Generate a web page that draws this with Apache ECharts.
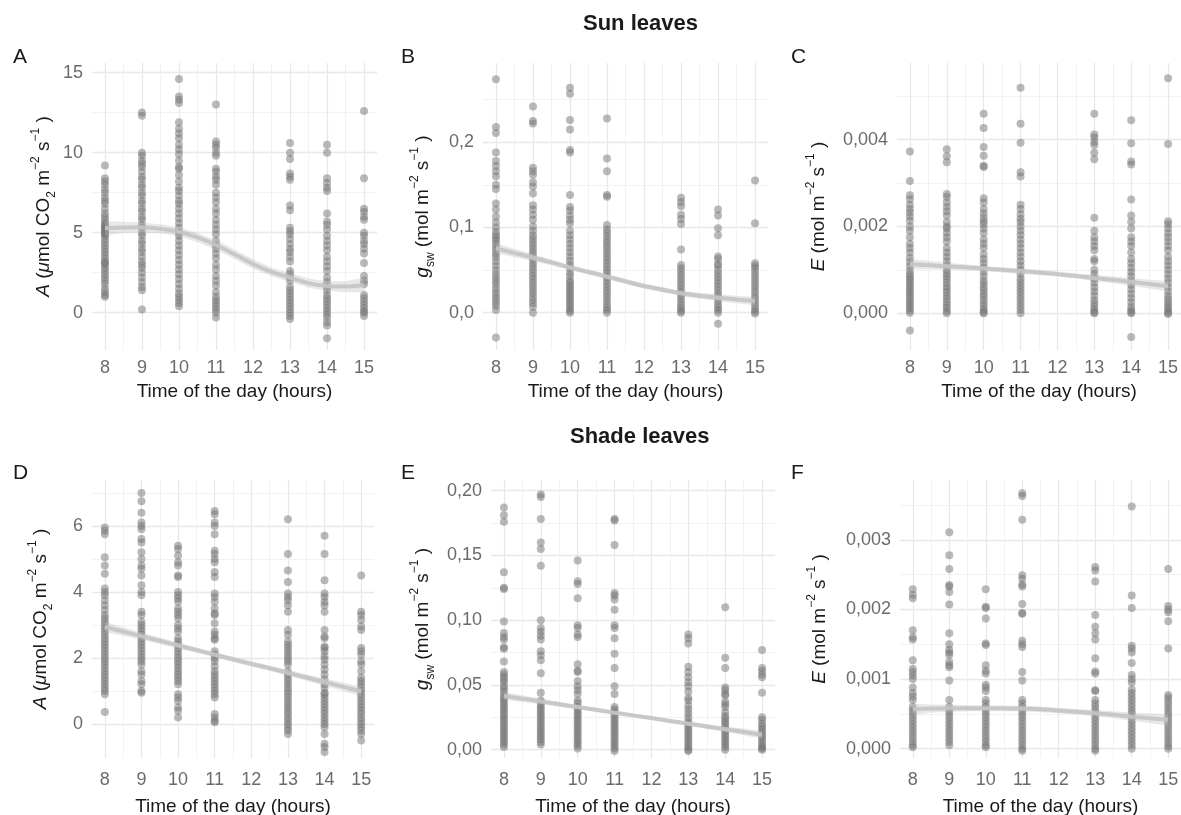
<!DOCTYPE html>
<html>
<head>
<meta charset="utf-8">
<script src="https://cdn.jsdelivr.net/npm/echarts@6/dist/echarts.min.js"></script>
<style>html,body{margin:0;padding:0;background:#fff}#chart{width:1181px;height:815px}</style>
</head>
<body>
<div id="chart"></div>
<script>
var hours = [8, 9, 10, 11, 13, 14, 15];
var xTicks = [8, 9, 10, 11, 12, 13, 14, 15];
var xMinor = [8.5, 9.5, 10.5, 11.5, 12.5, 13.5, 14.5];
var fitHours = [8, 8.5, 9, 9.5, 10, 10.5, 11, 11.5, 12, 12.5, 13, 13.5, 14, 14.5, 15];

// A - sun leaves, net assimilation (one list per hour)
var sunA = [
	[9.2, 8.4, 8.2, 8.0, 7.7, 7.5, 7.2, 7.0, 6.8, 6.5, 6.2, 6.0, 5.8, 5.6, 5.5, 5.4, 5.3, 5.2, 5.1, 5.0, 4.9, 4.8, 4.6, 4.4, 4.2, 4.0, 3.8, 3.6, 3.4, 3.2, 3.1, 3.0, 2.8, 2.6, 2.4, 2.2, 2.0, 1.8, 1.5, 1.3, 1.1, 1.0],
	[12.5, 12.3, 10.0, 9.8, 9.5, 9.3, 9.1, 8.8, 8.5, 8.3, 8.0, 7.8, 7.5, 7.3, 7.0, 6.8, 6.5, 6.3, 6.0, 5.8, 5.5, 5.3, 5.0, 4.8, 4.5, 4.3, 4.0, 3.8, 3.5, 3.2, 3.0, 2.8, 2.5, 2.2, 1.9, 1.6, 1.4, 0.2],
	[14.6, 13.5, 13.3, 13.1, 11.9, 11.5, 11.2, 10.9, 10.5, 10.2, 9.9, 9.5, 9.1, 9.0, 8.6, 8.2, 7.8, 7.6, 7.3, 7.0, 6.8, 6.5, 6.2, 5.9, 5.6, 5.3, 5.0, 4.8, 4.5, 4.2, 3.9, 3.6, 3.3, 3.0, 2.7, 2.4, 2.1, 1.8, 1.5, 1.2, 1.0, 0.8, 0.6, 0.4],
	[13.0, 10.7, 10.5, 10.3, 10.0, 9.8, 9.0, 8.8, 8.5, 8.3, 8.0, 7.5, 7.2, 6.9, 6.5, 6.2, 5.8, 5.5, 5.2, 4.9, 4.5, 4.2, 4.0, 3.7, 3.4, 3.0, 2.7, 2.3, 2.0, 1.7, 1.3, 1.0, 0.8, 0.6, 0.4, 0.2, 0.0, -0.3],
	[10.6, 10.0, 9.6, 8.7, 8.5, 8.3, 6.7, 6.4, 5.3, 5.1, 4.9, 4.6, 4.3, 4.0, 3.8, 3.5, 3.2, 2.6, 2.4, 2.2, 2.0, 1.6, 1.4, 1.2, 1.0, 0.8, 0.6, 0.4, 0.2, 0.0, -0.2, -0.4],
	[10.5, 10.0, 8.4, 8.1, 7.8, 7.6, 6.2, 5.7, 5.5, 5.2, 4.8, 4.5, 4.2, 3.9, 3.5, 3.2, 2.9, 2.6, 2.2, 1.9, 1.6, 1.4, 1.1, 0.9, 0.7, 0.5, 0.3, 0.1, -0.1, -0.3, -0.6, -0.8, -1.6],
	[12.6, 8.4, 6.5, 6.3, 6.0, 5.8, 5.0, 4.8, 4.5, 4.3, 4.0, 3.7, 3.1, 2.3, 2.0, 1.8, 1.1, 0.9, 0.7, 0.5, 0.3, 0.1, 0.0, -0.2]
];
var sunA_fit = [5.27, 5.33, 5.33, 5.25, 5.06, 4.70, 4.23, 3.65, 3.04, 2.55, 2.20, 1.85, 1.67, 1.63, 1.73];
var sunA_band = [0.45, 0.35, 0.3, 0.28, 0.28, 0.28, 0.3, 0.3, 0.3, 0.28, 0.28, 0.28, 0.3, 0.35, 0.45];

// B - sun leaves, stomatal conductance
var sunB = [
	[0.274, 0.218, 0.211, 0.188, 0.178, 0.172, 0.166, 0.160, 0.150, 0.145, 0.128, 0.121, 0.113, 0.106, 0.100, 0.095, 0.091, 0.088, 0.085, 0.081, 0.077, 0.073, 0.069, 0.065, 0.060, 0.055, 0.050, 0.045, 0.041, 0.037, 0.033, 0.028, 0.024, 0.020, 0.016, 0.012, 0.008, 0.003, -0.029],
	[0.242, 0.225, 0.222, 0.170, 0.166, 0.162, 0.153, 0.148, 0.140, 0.126, 0.121, 0.115, 0.109, 0.101, 0.096, 0.091, 0.087, 0.083, 0.079, 0.075, 0.071, 0.067, 0.063, 0.059, 0.055, 0.051, 0.047, 0.043, 0.039, 0.035, 0.031, 0.027, 0.023, 0.019, 0.015, 0.011, 0.007, 0.0],
	[0.264, 0.257, 0.226, 0.215, 0.191, 0.188, 0.138, 0.124, 0.120, 0.114, 0.109, 0.105, 0.096, 0.091, 0.086, 0.081, 0.076, 0.071, 0.066, 0.061, 0.056, 0.052, 0.047, 0.043, 0.038, 0.035, 0.032, 0.029, 0.026, 0.023, 0.020, 0.017, 0.014, 0.011, 0.008, 0.005, 0.002, 0.0],
	[0.228, 0.181, 0.166, 0.138, 0.136, 0.103, 0.098, 0.094, 0.090, 0.086, 0.082, 0.078, 0.074, 0.070, 0.066, 0.062, 0.058, 0.054, 0.050, 0.046, 0.042, 0.038, 0.034, 0.030, 0.026, 0.022, 0.018, 0.014, 0.010, 0.006, 0.003, 0.0],
	[0.135, 0.130, 0.125, 0.115, 0.110, 0.104, 0.074, 0.056, 0.052, 0.048, 0.044, 0.040, 0.036, 0.032, 0.028, 0.024, 0.020, 0.016, 0.012, 0.008, 0.005, 0.002, 0.0],
	[0.121, 0.114, 0.099, 0.091, 0.066, 0.063, 0.057, 0.055, 0.050, 0.046, 0.042, 0.038, 0.034, 0.030, 0.026, 0.022, 0.018, 0.014, 0.010, 0.006, 0.003, 0.0, -0.013],
	[0.155, 0.105, 0.058, 0.055, 0.052, 0.048, 0.044, 0.040, 0.036, 0.032, 0.028, 0.024, 0.020, 0.016, 0.012, 0.008, 0.004, 0.001, -0.001]
];
var sunB_fit = [0.0756, 0.0700, 0.0647, 0.0590, 0.0530, 0.0477, 0.0423, 0.0367, 0.0313, 0.0270, 0.0227, 0.0198, 0.0176, 0.0155, 0.0137];
var sunB_band = [0.006, 0.005, 0.004, 0.0035, 0.003, 0.003, 0.003, 0.003, 0.003, 0.003, 0.003, 0.0035, 0.004, 0.0045, 0.005];

// C - sun leaves, transpiration
var sunC = [
	[0.00373, 0.00305, 0.00272, 0.00263, 0.00250, 0.00240, 0.00232, 0.00223, 0.00213, 0.00200, 0.00190, 0.00175, 0.00160, 0.00150, 0.00140, 0.00128, 0.00118, 0.00108, 0.00098, 0.00090, 0.00084, 0.00078, 0.00072, 0.00066, 0.00060, 0.00054, 0.00048, 0.00042, 0.00036, 0.00030, 0.00024, 0.00018, 0.00012, 0.00006, 0.00001, -0.00040],
	[0.00378, 0.00362, 0.00348, 0.00275, 0.00268, 0.00255, 0.00245, 0.00235, 0.00225, 0.00210, 0.00200, 0.00195, 0.00185, 0.00175, 0.00165, 0.00150, 0.00140, 0.00130, 0.00120, 0.00110, 0.00100, 0.00092, 0.00085, 0.00078, 0.00070, 0.00062, 0.00055, 0.00048, 0.00040, 0.00033, 0.00025, 0.00018, 0.00012, 0.00005, 0.0],
	[0.00460, 0.00427, 0.00383, 0.00363, 0.00340, 0.00337, 0.00265, 0.00255, 0.00240, 0.00230, 0.00220, 0.00212, 0.00205, 0.00195, 0.00185, 0.00170, 0.00160, 0.00150, 0.00135, 0.00125, 0.00115, 0.00105, 0.00095, 0.00085, 0.00075, 0.00068, 0.00060, 0.00052, 0.00045, 0.00038, 0.00030, 0.00022, 0.00015, 0.00008, 0.00002, 0.0],
	[0.00520, 0.00437, 0.00393, 0.00325, 0.00315, 0.00250, 0.00240, 0.00228, 0.00218, 0.00210, 0.00200, 0.00190, 0.00180, 0.00170, 0.00160, 0.00150, 0.00140, 0.00130, 0.00120, 0.00110, 0.00100, 0.00090, 0.00080, 0.00072, 0.00064, 0.00056, 0.00048, 0.00040, 0.00032, 0.00024, 0.00016, 0.00008, 0.0],
	[0.00460, 0.00412, 0.00405, 0.00395, 0.00388, 0.00370, 0.00355, 0.00220, 0.00190, 0.00175, 0.00165, 0.00155, 0.00145, 0.00125, 0.00120, 0.00100, 0.00090, 0.00080, 0.00070, 0.00060, 0.00050, 0.00040, 0.00030, 0.00022, 0.00015, 0.00008, 0.00002, 0.0],
	[0.00445, 0.00392, 0.00350, 0.00343, 0.00262, 0.00225, 0.00210, 0.00195, 0.00175, 0.00165, 0.00155, 0.00140, 0.00125, 0.00115, 0.00105, 0.00095, 0.00085, 0.00075, 0.00065, 0.00055, 0.00045, 0.00035, 0.00025, 0.00015, 0.00008, 0.00002, 0.0, -0.00055],
	[0.00542, 0.00390, 0.00212, 0.00205, 0.00195, 0.00185, 0.00175, 0.00165, 0.00155, 0.00145, 0.00130, 0.00120, 0.00110, 0.00100, 0.00090, 0.00080, 0.00070, 0.00060, 0.00050, 0.00040, 0.00032, 0.00025, 0.00018, 0.00012, 0.00006, 0.00001, -0.00002]
];
var sunC_fit = [0.00113, 0.00111, 0.00108, 0.00106, 0.00103, 0.00100, 0.00097, 0.00094, 0.00090, 0.00086, 0.00081, 0.00077, 0.00072, 0.00067, 0.00062];
var sunC_band = [0.00012, 0.0001, 0.00008, 0.00007, 0.00006, 0.00006, 0.00006, 0.00006, 0.00006, 0.00006, 0.00007, 0.00008, 0.00009, 0.0001, 0.00012];

// D - shade leaves, net assimilation
var shadeA = [
	[5.95, 5.85, 5.75, 5.05, 4.8, 4.55, 4.1, 4.0, 3.9, 3.75, 3.6, 3.45, 3.3, 3.2, 3.1, 3.0, 2.9, 2.8, 2.7, 2.6, 2.5, 2.4, 2.3, 2.2, 2.1, 2.0, 1.9, 1.8, 1.7, 1.6, 1.5, 1.4, 1.3, 1.2, 1.1, 1.0, 0.9, 0.36],
	[7.0, 6.75, 6.4, 6.1, 6.0, 5.9, 5.6, 5.5, 5.2, 5.0, 4.8, 4.7, 4.5, 4.2, 4.0, 3.9, 3.4, 3.3, 3.1, 3.0, 2.9, 2.8, 2.7, 2.6, 2.5, 2.4, 2.3, 2.2, 2.1, 2.0, 1.9, 1.8, 1.6, 1.5, 1.3, 1.2, 1.0, 0.95],
	[5.4, 5.3, 5.1, 4.9, 4.8, 4.5, 4.45, 4.0, 3.9, 3.8, 3.7, 3.5, 3.4, 3.3, 3.2, 3.0, 2.9, 2.8, 2.6, 2.5, 2.4, 2.3, 2.2, 2.1, 2.0, 1.9, 1.8, 1.7, 1.6, 1.5, 1.4, 1.3, 1.2, 0.9, 0.8, 0.7, 0.5, 0.4, 0.2],
	[6.45, 6.35, 6.1, 6.0, 5.75, 5.25, 5.15, 5.0, 4.9, 4.6, 4.45, 3.95, 3.85, 3.7, 3.5, 3.35, 3.3, 3.05, 2.8, 2.7, 2.6, 2.55, 2.2, 2.1, 2.0, 1.9, 1.75, 1.6, 1.5, 1.4, 1.3, 1.2, 1.1, 1.0, 0.9, 0.8, 0.3, 0.2, 0.1, 0.05],
	[6.2, 5.15, 4.65, 4.3, 3.95, 3.85, 3.75, 3.6, 3.4, 2.85, 2.7, 2.5, 2.4, 2.3, 2.2, 2.1, 2.0, 1.9, 1.8, 1.6, 1.5, 1.4, 1.3, 1.2, 1.1, 1.0, 0.9, 0.8, 0.7, 0.6, 0.5, 0.4, 0.3, 0.2, 0.1, 0.0, -0.1, -0.2, -0.3],
	[5.7, 5.15, 4.35, 3.95, 3.85, 3.7, 3.6, 3.4, 2.85, 2.65, 2.6, 2.35, 2.3, 2.2, 2.05, 1.95, 1.8, 1.65, 1.5, 1.35, 1.2, 1.1, 0.95, 0.9, 0.8, 0.7, 0.6, 0.5, 0.4, 0.3, 0.2, 0.1, 0.0, -0.1, -0.3, -0.6, -0.7, -0.85],
	[4.5, 3.4, 3.3, 3.15, 2.95, 2.85, 2.3, 2.2, 2.1, 1.9, 1.8, 1.6, 1.4, 1.3, 1.2, 1.1, 1.0, 0.9, 0.8, 0.7, 0.6, 0.5, 0.4, 0.3, 0.2, 0.1, 0.0, -0.1, -0.2, -0.3, -0.5]
];
var shadeA_fit = [2.94, 2.80, 2.66, 2.52, 2.38, 2.24, 2.10, 1.96, 1.82, 1.69, 1.55, 1.41, 1.27, 1.13, 0.99];
var shadeA_band = [0.15, 0.13, 0.11, 0.1, 0.09, 0.08, 0.08, 0.08, 0.08, 0.08, 0.09, 0.1, 0.11, 0.13, 0.15];

// E - shade leaves, stomatal conductance
var shadeB = [
	[0.187, 0.181, 0.176, 0.137, 0.125, 0.124, 0.099, 0.090, 0.087, 0.085, 0.079, 0.078, 0.068, 0.060, 0.058, 0.056, 0.054, 0.052, 0.049, 0.047, 0.045, 0.042, 0.040, 0.038, 0.036, 0.034, 0.032, 0.030, 0.028, 0.026, 0.024, 0.022, 0.020, 0.018, 0.016, 0.014, 0.012, 0.010, 0.008, 0.006, 0.004, 0.002],
	[0.197, 0.195, 0.178, 0.160, 0.155, 0.142, 0.100, 0.094, 0.091, 0.088, 0.085, 0.076, 0.073, 0.069, 0.059, 0.044, 0.038, 0.036, 0.034, 0.032, 0.030, 0.028, 0.026, 0.024, 0.022, 0.020, 0.018, 0.016, 0.014, 0.012, 0.010, 0.008, 0.006, 0.004],
	[0.146, 0.130, 0.128, 0.117, 0.096, 0.094, 0.089, 0.087, 0.066, 0.061, 0.060, 0.053, 0.049, 0.046, 0.043, 0.038, 0.036, 0.033, 0.031, 0.029, 0.027, 0.025, 0.023, 0.021, 0.019, 0.017, 0.015, 0.013, 0.011, 0.009, 0.007, 0.005, 0.003, 0.001],
	[0.178, 0.177, 0.158, 0.121, 0.119, 0.116, 0.108, 0.096, 0.094, 0.086, 0.074, 0.063, 0.049, 0.043, 0.033, 0.031, 0.029, 0.027, 0.025, 0.023, 0.021, 0.019, 0.017, 0.015, 0.013, 0.011, 0.009, 0.007, 0.005, 0.003, 0.001, -0.001],
	[0.089, 0.086, 0.082, 0.064, 0.060, 0.056, 0.052, 0.049, 0.045, 0.040, 0.038, 0.034, 0.031, 0.028, 0.025, 0.022, 0.020, 0.018, 0.016, 0.014, 0.012, 0.010, 0.008, 0.006, 0.004, 0.002, 0.0, -0.001],
	[0.110, 0.071, 0.063, 0.048, 0.046, 0.043, 0.042, 0.037, 0.035, 0.033, 0.029, 0.026, 0.024, 0.022, 0.020, 0.018, 0.016, 0.014, 0.012, 0.010, 0.008, 0.006, 0.004, 0.002, 0.0],
	[0.077, 0.063, 0.061, 0.058, 0.056, 0.044, 0.025, 0.023, 0.020, 0.018, 0.016, 0.014, 0.012, 0.010, 0.008, 0.006, 0.004, 0.002, 0.001, 0.0]
];
var shadeB_fit = [0.0415, 0.0394, 0.0372, 0.0351, 0.0329, 0.0308, 0.0286, 0.0265, 0.0244, 0.0222, 0.0201, 0.0179, 0.0158, 0.0137, 0.0115];
var shadeB_band = [0.003, 0.0026, 0.0022, 0.0019, 0.0017, 0.0016, 0.0015, 0.0015, 0.0015, 0.0016, 0.0017, 0.0019, 0.0022, 0.0026, 0.003];

// F - shade leaves, transpiration
var shadeC = [
	[0.00229, 0.00221, 0.00216, 0.00170, 0.00160, 0.00157, 0.00127, 0.00115, 0.00110, 0.00105, 0.00100, 0.00088, 0.00080, 0.00075, 0.00070, 0.00060, 0.00055, 0.00050, 0.00045, 0.00040, 0.00035, 0.00030, 0.00025, 0.00020, 0.00015, 0.00010, 0.00005, 0.00002],
	[0.00311, 0.00278, 0.00258, 0.00235, 0.00233, 0.00225, 0.00207, 0.00166, 0.00150, 0.00142, 0.00138, 0.00135, 0.00125, 0.00120, 0.00117, 0.00098, 0.00070, 0.00060, 0.00055, 0.00050, 0.00045, 0.00040, 0.00035, 0.00030, 0.00025, 0.00020, 0.00015, 0.00010, 0.00005],
	[0.00229, 0.00204, 0.00202, 0.00187, 0.00151, 0.00149, 0.00120, 0.00112, 0.00108, 0.00092, 0.00088, 0.00083, 0.00070, 0.00065, 0.00060, 0.00055, 0.00050, 0.00045, 0.00040, 0.00035, 0.00030, 0.00025, 0.00020, 0.00015, 0.00010, 0.00005, 0.00002],
	[0.00367, 0.00363, 0.00329, 0.00249, 0.00244, 0.00236, 0.00233, 0.00208, 0.00195, 0.00194, 0.00155, 0.00150, 0.00146, 0.00110, 0.00098, 0.00070, 0.00065, 0.00060, 0.00055, 0.00050, 0.00045, 0.00040, 0.00035, 0.00030, 0.00025, 0.00020, 0.00015, 0.00010, 0.00005, 0.0, -0.00003],
	[0.00261, 0.00256, 0.00240, 0.00192, 0.00175, 0.00166, 0.00157, 0.00130, 0.00111, 0.00108, 0.00084, 0.00083, 0.00070, 0.00065, 0.00060, 0.00055, 0.00050, 0.00045, 0.00040, 0.00035, 0.00030, 0.00025, 0.00020, 0.00015, 0.00010, 0.00005, 0.0, -0.00003],
	[0.00348, 0.00220, 0.00202, 0.00148, 0.00144, 0.00138, 0.00123, 0.00106, 0.00100, 0.00095, 0.00085, 0.00080, 0.00075, 0.00070, 0.00065, 0.00060, 0.00055, 0.00050, 0.00045, 0.00040, 0.00035, 0.00030, 0.00025, 0.00020, 0.00015, 0.00010, 0.00005, 0.0],
	[0.00258, 0.00205, 0.00200, 0.00196, 0.00183, 0.00144, 0.00077, 0.00073, 0.00068, 0.00063, 0.00058, 0.00053, 0.00048, 0.00043, 0.00038, 0.00033, 0.00028, 0.00023, 0.00018, 0.00013, 0.00008, 0.00004, 0.0]
];
var shadeC_fit = [0.000567, 0.000576, 0.00058, 0.000582, 0.00058, 0.000579, 0.000576, 0.000565, 0.000548, 0.00053, 0.00051, 0.000487, 0.00046, 0.000437, 0.000414];
var shadeC_band = [0.00008, 0.00006, 0.00005, 0.000045, 0.00004, 0.00004, 0.00004, 0.00004, 0.00004, 0.00004, 0.000045, 0.00005, 0.00006, 0.00007, 0.00008];

// y tick labels (major) and minor grid positions
var ticksA = [0, 5, 10, 15], minorA = [2.5, 7.5, 12.5];
var ticksB = [0, 0.1, 0.2], minorB = [0.05, 0.15, 0.25];
var ticksC = [0, 0.002, 0.004], minorC = [0.001, 0.003, 0.005];
var ticksD = [0, 2, 4, 6], minorD = [1, 3, 5, 7];
var ticksE = [0, 0.05, 0.1, 0.15, 0.2], minorE = [0.025, 0.075, 0.125, 0.175];
var ticksF = [0, 0.001, 0.002, 0.003], minorF = [0.0005, 0.0015, 0.0025, 0.0035];

var FONT = '"Liberation Sans", Arial, Helvetica, sans-serif';
var richName = {
	i : { fontStyle : 'italic', fontSize : 19, fontFamily : FONT, color : '#1a1a1a' },
	sup : { fontSize : 12, lineHeight : 15, verticalAlign : 'top', fontFamily : FONT, color : '#1a1a1a' },
	sub : { fontSize : 12, lineHeight : 17, verticalAlign : 'bottom', fontFamily : FONT, color : '#1a1a1a' }
};
var nameA = '{i|A} ({i|μ}mol CO{sub|2} m{sup|−2} s{sup|−1} )';
var nameG = '{i|g}{sub|sw} (mol m{sup|−2} s{sup|−1} )';
var nameE = '{i|E} (mol m{sup|−2} s{sup|−1} )';

var panels = [
	{ data : sunA, fit : sunA_fit, band : sunA_band, box : [92, 63, 285, 287], y : [-2.33, 15.6], ticks : ticksA, minor : minorA, dec : 0, name : nameA, nameGap : 34, xMargin : 9, xGap : 32 },
	{ data : sunB, fit : sunB_fit, band : sunB_band, box : [483, 63, 285, 287], y : [-0.0438, 0.293], ticks : ticksB, minor : minorB, dec : 1, name : nameG, nameGap : 46, xMargin : 9, xGap : 32 },
	{ data : sunC, fit : sunC_fit, band : sunC_band, box : [897, 63, 284, 287], y : [-0.00085, 0.00577], ticks : ticksC, minor : minorC, dec : 3, name : nameE, nameGap : 64, xMargin : 9, xGap : 32 },
	{ data : shadeA, fit : shadeA_fit, band : shadeA_band, box : [92, 480, 282, 278], y : [-1.03, 7.39], ticks : ticksD, minor : minorD, dec : 0, name : nameA, nameGap : 37, xMargin : 13, xGap : 39 },
	{ data : shadeB, fit : shadeB_fit, band : shadeB_band, box : [491, 480, 284, 278], y : [-0.0064, 0.2082], ticks : ticksE, minor : minorE, dec : 2, name : nameG, nameGap : 54, xMargin : 13, xGap : 39 },
	{ data : shadeC, fit : shadeC_fit, band : shadeC_band, box : [900, 480, 281, 278], y : [-0.000134, 0.00386], ticks : ticksF, minor : minorF, dec : 3, name : nameE, nameGap : 66, xMargin : 13, xGap : 39 }
];

function bandRenderer(p) {
	return function (params, api) {
		var up = [], dn = [];
		fitHours.forEach(function (h, k) {
			up.push(api.coord([h, p.fit[k] + p.band[k]]));
			dn.push(api.coord([h, p.fit[k] - p.band[k]]));
		});
		return {
			type : 'polygon',
			shape : { points : up.concat(dn.reverse()) },
			style : { fill : 'rgba(190,190,190,0.35)' }
		};
	};
}

var grids = [], xAxes = [], yAxes = [], series = [];
panels.forEach(function (p, i) {
	grids.push({ left : p.box[0], top : p.box[1], width : p.box[2], height : p.box[3], containLabel : false, outerBoundsMode : 'none' });
	// major x axis
	xAxes.push({
		type : 'value', gridIndex : i, min : 7.65, max : 15.35,
		axisLine : { show : false },
		axisTick : { show : false, customValues : xTicks },
		axisLabel : { customValues : xTicks, color : '#6b6b6b', fontSize : 18, fontFamily : FONT, margin : p.xMargin },
		splitLine : { show : true, lineStyle : { color : '#e8e8e8', width : 1.3 } },
		name : 'Time of the day (hours)', nameLocation : 'middle', nameGap : p.xGap,
		nameTextStyle : { color : '#1a1a1a', fontSize : 19, fontFamily : FONT }
	});
	// minor x axis (grid only)
	xAxes.push({
		type : 'value', gridIndex : i, min : 7.65, max : 15.35, position : 'bottom',
		axisLine : { show : false },
		axisTick : { show : false, customValues : xMinor },
		axisLabel : { show : false, customValues : xMinor },
		splitLine : { show : true, lineStyle : { color : '#efefef', width : 0.8 } }
	});
	yAxes.push({
		type : 'value', gridIndex : i, min : p.y[0], max : p.y[1],
		axisLine : { show : false },
		axisTick : { show : false, customValues : p.ticks },
		axisLabel : {
			customValues : p.ticks, color : '#6b6b6b', fontSize : 18, fontFamily : FONT, margin : 9,
			formatter : (function (d) { return function (v) { return v.toFixed(d).replace('.', ','); }; })(p.dec)
		},
		splitLine : { show : true, lineStyle : { color : '#e8e8e8', width : 1.3 } },
		name : p.name, nameLocation : 'middle', nameGap : p.nameGap,
		nameTextStyle : { color : '#1a1a1a', fontSize : 19, fontFamily : FONT, lineHeight : 28, rich : richName }
	});
	yAxes.push({
		type : 'value', gridIndex : i, min : p.y[0], max : p.y[1], position : 'left',
		axisLine : { show : false },
		axisTick : { show : false, customValues : p.minor },
		axisLabel : { show : false, customValues : p.minor },
		splitLine : { show : true, lineStyle : { color : '#efefef', width : 0.8 } }
	});

	var pts = [];
	hours.forEach(function (h, k) {
		p.data[k].forEach(function (v) { pts.push([h, v]); });
	});
	series.push({
		type : 'scatter', xAxisIndex : 2 * i, yAxisIndex : 2 * i, data : pts,
		symbolSize : 8, silent : true, z : 2,
		itemStyle : { color : '#737373', opacity : 0.5 }
	});
	series.push({
		type : 'custom', xAxisIndex : 2 * i, yAxisIndex : 2 * i,
		data : [[fitHours[0], p.fit[0]]],
		renderItem : bandRenderer(p), clip : true, silent : true, z : 3
	});
	series.push({
		type : 'line', xAxisIndex : 2 * i, yAxisIndex : 2 * i,
		data : fitHours.map(function (h, k) { return [h, p.fit[k]]; }),
		symbol : 'none', smooth : 0.3, silent : true, z : 4,
		lineStyle : { color : '#c4c4c4', width : 4, opacity : 0.9 }
	});
});

var letter = function (t, x, y) {
	return { text : t, left : x, top : y, textStyle : { fontSize : 21, fontWeight : 'normal', color : '#1a1a1a', fontFamily : FONT } };
};
var chart = echarts.init(document.getElementById('chart'));
chart.setOption({
	animation : false,
	backgroundColor : '#ffffff',
	title : [
		{ text : 'Sun leaves', left : 578, top : 8, textStyle : { fontSize : 22, fontWeight : 'bold', color : '#1a1a1a', fontFamily : FONT } },
		{ text : 'Shade leaves', left : 565, top : 421, textStyle : { fontSize : 22, fontWeight : 'bold', color : '#1a1a1a', fontFamily : FONT } },
		letter('A', 8, 42), letter('B', 396, 42), letter('C', 786, 42),
		letter('D', 8, 458), letter('E', 396, 458), letter('F', 786, 458)
	],
	grid : grids,
	xAxis : xAxes,
	yAxis : yAxes,
	series : series
});
</script>
</body>
</html>
